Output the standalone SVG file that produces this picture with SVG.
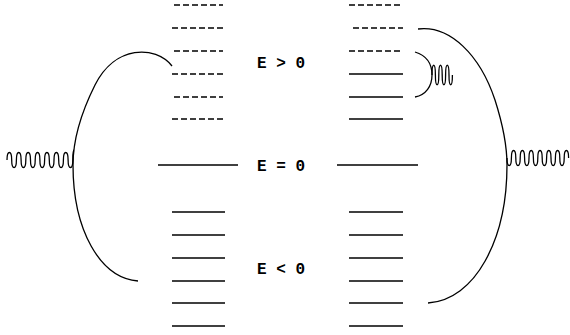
<svg xmlns="http://www.w3.org/2000/svg" width="570" height="335" viewBox="0 0 570 335">
<style>
.lvl{stroke:#000;stroke-width:1.3;fill:none}
.dash{stroke-dasharray:6 3}
.curve{stroke:#000;stroke-width:1.3;fill:none}
.lbl{font-family:"Liberation Mono","DejaVu Sans Mono",monospace;font-size:16px;font-weight:bold;fill:#000;text-anchor:middle}
</style>
<rect width="570" height="335" fill="#fff"/>
<g id="left-levels">
<line class="lvl dash" x1="172" y1="5" x2="223" y2="5" stroke-dashoffset="7"/>
<line class="lvl dash" x1="172" y1="28" x2="225" y2="28"/>
<line class="lvl dash" x1="172" y1="51" x2="223" y2="51" stroke-dashoffset="7"/>
<line class="lvl dash" x1="172" y1="74" x2="225" y2="74"/>
<line class="lvl dash" x1="172" y1="97" x2="223" y2="97" stroke-dashoffset="7"/>
<line class="lvl dash" x1="172" y1="119" x2="225" y2="119"/>
<line class="lvl" x1="158" y1="165" x2="238" y2="165"/>
<line class="lvl" x1="172" y1="212" x2="225" y2="212"/>
<line class="lvl" x1="172" y1="235" x2="225" y2="235"/>
<line class="lvl" x1="172" y1="258" x2="225" y2="258"/>
<line class="lvl" x1="172" y1="281" x2="225" y2="281"/>
<line class="lvl" x1="172" y1="303" x2="225" y2="303"/>
<line class="lvl" x1="172" y1="326" x2="225" y2="326"/>
</g>
<g id="right-levels">
<line class="lvl dash" x1="349" y1="5" x2="403" y2="5"/>
<line class="lvl dash" x1="353" y1="28" x2="403" y2="28"/>
<line class="lvl dash" x1="349" y1="51" x2="402" y2="51"/>
<line class="lvl" x1="349" y1="74" x2="403" y2="74"/>
<line class="lvl" x1="349" y1="97" x2="403" y2="97"/>
<line class="lvl" x1="349" y1="119" x2="403" y2="119"/>
<line class="lvl" x1="337" y1="165" x2="418" y2="165"/>
<line class="lvl" x1="349" y1="212" x2="403" y2="212"/>
<line class="lvl" x1="349" y1="235" x2="403" y2="235"/>
<line class="lvl" x1="349" y1="258" x2="403" y2="258"/>
<line class="lvl" x1="349" y1="281" x2="403" y2="281"/>
<line class="lvl" x1="349" y1="303" x2="403" y2="303"/>
<line class="lvl" x1="349" y1="326" x2="403" y2="326"/>
</g>
<g id="labels">
<text class="lbl" x="281" y="68">E &gt; 0</text>
<text class="lbl" x="281" y="171">E = 0</text>
<text class="lbl" x="281" y="274">E &lt; 0</text>
</g>
<g id="left-spring">
<path class="curve" d="M7,160 c0,-10 4.7,-10 4.7,0 c0,10 4.7,10 4.7,0 c0,-10 4.7,-10 4.7,0 c0,10 4.7,10 4.7,0 c0,-10 4.7,-10 4.7,0 c0,10 4.7,10 4.7,0 c0,-10 4.7,-10 4.7,0 c0,10 4.7,10 4.7,0 c0,-10 4.7,-10 4.7,0 c0,10 4.7,10 4.7,0 c0,-10 4.7,-10 4.7,0 c0,10 4.7,10 4.7,0 c0,-10 4.7,-10 4.7,0 c0,10 4.7,10 4.7,0 c0,-10 1.2,-10 1.2,-10"/>
</g>
<g id="right-spring">
<path class="curve" d="M507,158 c0,10 4.4,10 4.4,0 c0,-10 4.4,-10 4.4,0 c0,10 4.4,10 4.4,0 c0,-10 4.4,-10 4.4,0 c0,10 4.4,10 4.4,0 c0,-10 4.4,-10 4.4,0 c0,10 4.4,10 4.4,0 c0,-10 4.4,-10 4.4,0 c0,10 4.4,10 4.4,0 c0,-10 4.4,-10 4.4,0 c0,10 4.4,10 4.4,0 c0,-10 4.4,-10 4.4,0 c0,10 4.4,10 4.4,0 c0,-10 4.4,-10 4.4,0"/>
</g>
<g id="small-spring">
<path class="curve" d="M432,75 c0,-13 3.4,-13 3.4,0 c0,13 3.4,13 3.4,0 c0,-13 3.4,-13 3.4,0 c0,13 3.4,13 3.4,0 c0,-13 3.4,-13 3.4,0 c0,13 3.4,13 3.4,0"/>
</g>
<g id="connectors">
<path class="curve" d="M172,66 C155,45 115,45 95,85 C80,115 73,140 73,165 C73,230 100,278 138,281"/>
<path class="curve" d="M418,29 C450,25 480,55 495,100 C503,125 507,145 507,165 C507,240 475,300 428,303"/>
<path class="curve" d="M415,52 C428,56 432,66 432,75 C432,86 426,95 415,97"/>
</g>
</svg>
